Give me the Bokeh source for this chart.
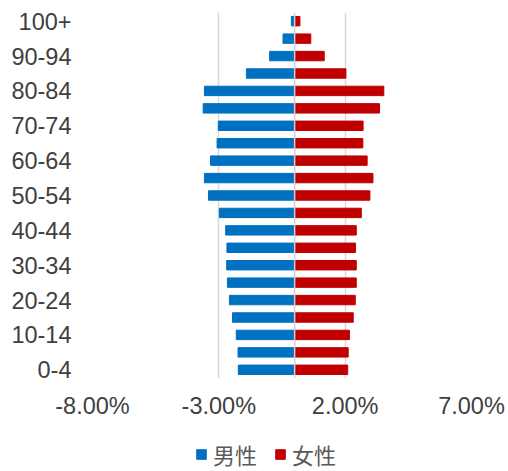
from bokeh.plotting import figure
from bokeh.layouts import column
from bokeh.models import Range1d, FixedTicker, PrintfTickFormatter, Legend, LegendItem, Span, ColumnDataSource
from bokeh.embed import file_html
from bokeh.resources import INLINE

categories = ["0-4", "5-9", "10-14", "15-19", "20-24", "25-29", "30-34", "35-39",
              "40-44", "45-49", "50-54", "55-59", "60-64", "65-69", "70-74", "75-79",
              "80-84", "85-89", "90-94", "95-99", "100+"]
male = [-2.23, -2.24, -2.31, -2.46, -2.58, -2.66, -2.69, -2.68, -2.73, -2.98, -3.41,
        -3.57, -3.33, -3.07, -3.02, -3.62, -3.57, -1.91, -0.99, -0.46, -0.13]
female = [2.10, 2.12, 2.17, 2.32, 2.40, 2.44, 2.44, 2.41, 2.44, 2.64, 2.98,
          3.10, 2.87, 2.70, 2.71, 3.36, 3.53, 2.03, 1.17, 0.64, 0.21]
x_ticks = [-8, -3, 2, 7]
series_names = ["男性", "女性"]
colors = ["#0070C0", "#C00000"]

idx = list(range(len(categories)))
src = ColumnDataSource(dict(y=idx, male=male, female=female))

p = figure(width=508, height=428, output_backend="svg", toolbar_location=None,
           x_range=Range1d(-8, 7), y_range=Range1d(-0.5, len(categories) - 0.5),
           min_border_left=92, min_border_right=37, min_border_top=12, min_border_bottom=50)
p.outline_line_color = None

r_m = p.hbar(y="y", left=0, right="male", height=0.54, source=src, color=colors[0])
r_f = p.hbar(y="y", left=0, right="female", height=0.54, source=src, color=colors[1])

p.add_layout(Span(location=0, dimension="height", line_color="#D0D0D0", line_width=1.5))

font = "Liberation Sans, Arial, Noto Sans CJK SC, sans-serif"
fsize = "23.5px"

p.xaxis.ticker = FixedTicker(ticks=x_ticks)
p.xaxis.formatter = PrintfTickFormatter(format="%.2f%%")
p.xaxis.axis_line_color = None
p.xaxis.major_tick_line_color = None
p.xaxis.minor_tick_line_color = None
p.xaxis.major_tick_out = 0
p.xaxis.major_tick_in = 0
p.xaxis.major_label_text_font = font
p.xaxis.major_label_text_font_size = fsize
p.xaxis.major_label_text_color = "#404040"
p.xaxis.major_label_standoff = 14

even = idx[::2]
p.yaxis.ticker = FixedTicker(ticks=even)
p.yaxis.major_label_overrides = {i: categories[i] for i in even}
p.yaxis.axis_line_color = None
p.yaxis.major_tick_line_color = None
p.yaxis.minor_tick_line_color = None
p.yaxis.major_tick_out = 0
p.yaxis.major_tick_in = 0
p.yaxis.major_label_text_font = font
p.yaxis.major_label_text_font_size = fsize
p.yaxis.major_label_text_color = "#404040"
p.yaxis.major_label_standoff = 21

p.xgrid.ticker = FixedTicker(ticks=x_ticks)
p.xgrid.grid_line_color = "#D9D9D9"
p.xgrid.grid_line_width = 1.5
p.ygrid.grid_line_color = None

# legend strip below the chart
p2 = figure(width=508, height=43, output_backend="svg", toolbar_location=None,
            x_range=Range1d(0, 1), y_range=Range1d(0, 1),
            x_axis_type=None, y_axis_type=None,
            min_border_left=0, min_border_right=0, min_border_top=0, min_border_bottom=0)
p2.outline_line_color = None
p2.grid.grid_line_color = None
nan = float("nan")
lm = p2.hbar(y=[nan], left=[nan], right=[nan], height=0.5, color=colors[0])
lf = p2.hbar(y=[nan], left=[nan], right=[nan], height=0.5, color=colors[1])

legend = Legend(items=[LegendItem(label=series_names[0], renderers=[lm]),
                       LegendItem(label=series_names[1], renderers=[lf])],
                orientation="horizontal", location=(103, 1),
                label_text_font=font, label_text_font_size="22px",
                label_text_line_height=1.0, label_height=20,
                label_text_color="#595959", glyph_width=12, glyph_height=12,
                label_standoff=6, spacing=17, padding=0, margin=0,
                border_line_color=None, background_fill_color=None)
p2.add_layout(legend, "center")

layout = column(p, p2, spacing=0)
open("out.html", "w").write(file_html(layout, INLINE))
